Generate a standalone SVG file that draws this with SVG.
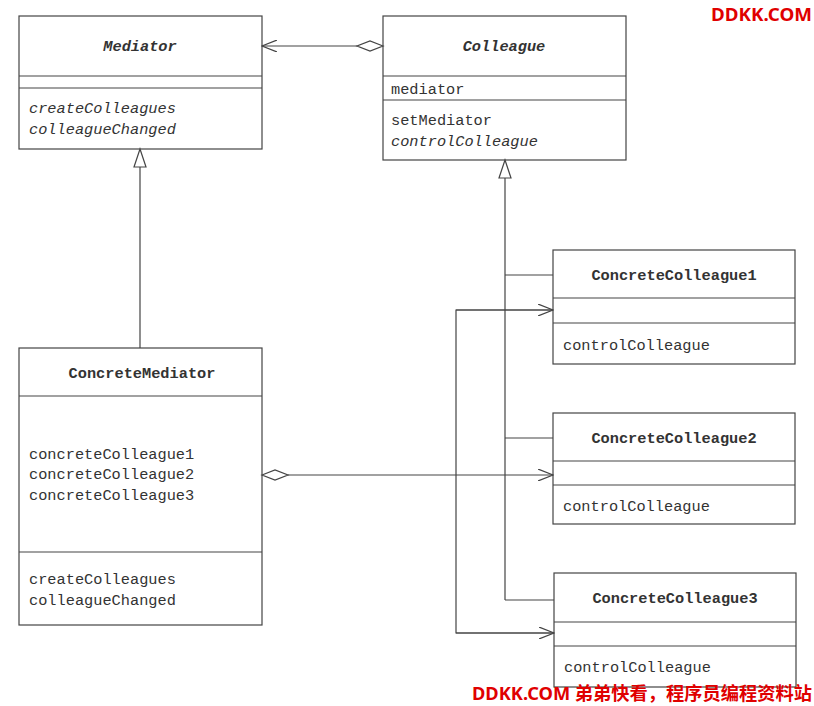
<svg xmlns="http://www.w3.org/2000/svg" width="814" height="706" viewBox="0 0 814 706">
<style>
.box{fill:#fff;stroke:#444;stroke-width:1.2}
.ln{fill:none;stroke:#444;stroke-width:1.2}
.t{font-family:"Liberation Mono","DejaVu Sans Mono",monospace;font-size:15.3px;fill:#333}
.b{font-weight:bold;text-anchor:middle}
.i{font-style:italic}
.wm{font-family:"Noto Sans","Noto Sans CJK SC",sans-serif;font-weight:bold;font-size:18px;fill:#e00000}
</style>
<defs>
<marker id="open" markerWidth="16" markerHeight="12" refX="15" refY="6" orient="auto" markerUnits="userSpaceOnUse">
<path d="M0,0 L15,6 L0,12" fill="none" stroke="#444" stroke-width="1.2"/>
</marker>
</defs>
<g id="Mediator">
<rect class="box" x="19" y="16" width="243" height="133"/>
<line class="ln" x1="19" y1="76" x2="262" y2="76"/>
<line class="ln" x1="19" y1="88" x2="262" y2="88"/>
<text class="t b i" x="140" y="51">Mediator</text>
<text class="t i" x="29" y="113">createColleagues</text>
<text class="t i" x="29" y="134">colleagueChanged</text>
</g>
<g id="Colleague">
<rect class="box" x="383" y="16" width="243" height="144"/>
<line class="ln" x1="383" y1="76" x2="626" y2="76"/>
<line class="ln" x1="383" y1="100" x2="626" y2="100"/>
<text class="t b i" x="504" y="51">Colleague</text>
<text class="t" x="391" y="94">mediator</text>
<text class="t" x="391" y="125">setMediator</text>
<text class="t i" x="391" y="146">controlColleague</text>
</g>
<g id="ConcreteMediator">
<rect class="box" x="19" y="348" width="243" height="277"/>
<line class="ln" x1="19" y1="396" x2="262" y2="396"/>
<line class="ln" x1="19" y1="552" x2="262" y2="552"/>
<text class="t b" x="142" y="378">ConcreteMediator</text>
<text class="t" x="29" y="459">concreteColleague1</text>
<text class="t" x="29" y="479">concreteColleague2</text>
<text class="t" x="29" y="500">concreteColleague3</text>
<text class="t" x="29" y="584">createColleagues</text>
<text class="t" x="29" y="605">colleagueChanged</text>
</g>
<g id="ConcreteColleague1">
<rect class="box" x="553" y="250" width="242" height="114"/>
<line class="ln" x1="553" y1="298" x2="795" y2="298"/>
<line class="ln" x1="553" y1="323" x2="795" y2="323"/>
<text class="t b" x="674" y="280">ConcreteColleague1</text>
<text class="t" x="563" y="350">controlColleague</text>
</g>
<g id="ConcreteColleague2">
<rect class="box" x="553" y="413" width="242" height="111"/>
<line class="ln" x1="553" y1="461" x2="795" y2="461"/>
<line class="ln" x1="553" y1="485" x2="795" y2="485"/>
<text class="t b" x="674" y="443">ConcreteColleague2</text>
<text class="t" x="563" y="511">controlColleague</text>
</g>
<g id="ConcreteColleague3">
<rect class="box" x="554" y="573" width="242" height="114"/>
<line class="ln" x1="554" y1="622" x2="796" y2="622"/>
<line class="ln" x1="554" y1="646" x2="796" y2="646"/>
<text class="t b" x="675" y="603">ConcreteColleague3</text>
<text class="t" x="564" y="672">controlColleague</text>
</g>
<g id="connectors">
<line class="ln" x1="357" y1="46" x2="262" y2="46" marker-end="url(#open)"/>
<path class="ln" d="M383,46 L370,41 L357,46 L370,51 Z"/>
<line class="ln" x1="140" y1="167" x2="140" y2="348"/>
<path class="ln" d="M140,149 L134,167 L146,167 Z"/>
<line class="ln" x1="505" y1="178" x2="505" y2="600"/>
<path class="ln" d="M505,160 L499,178 L511,178 Z"/>
<polyline class="ln" points="505,275 553,275"/>
<polyline class="ln" points="505,438 553,438"/>
<polyline class="ln" points="505,600 554,600"/>
<path class="ln" d="M262,475 L275,470 L288,475 L275,480 Z"/>
<line class="ln" x1="288" y1="475" x2="553" y2="475" marker-end="url(#open)"/>
<polyline class="ln" points="553,310 456,310 456,633 554,633"/>
<line class="ln" x1="456" y1="310" x2="553" y2="310" marker-end="url(#open)"/>
<line class="ln" x1="456" y1="633" x2="554" y2="633" marker-end="url(#open)"/>
</g>
<text class="wm" x="711" y="21" textLength="101" lengthAdjust="spacingAndGlyphs">DDKK.COM</text>
<text class="wm" x="472" y="700" textLength="340" lengthAdjust="spacingAndGlyphs">DDKK.COM 弟弟快看，程序员编程资料站</text>
</svg>
